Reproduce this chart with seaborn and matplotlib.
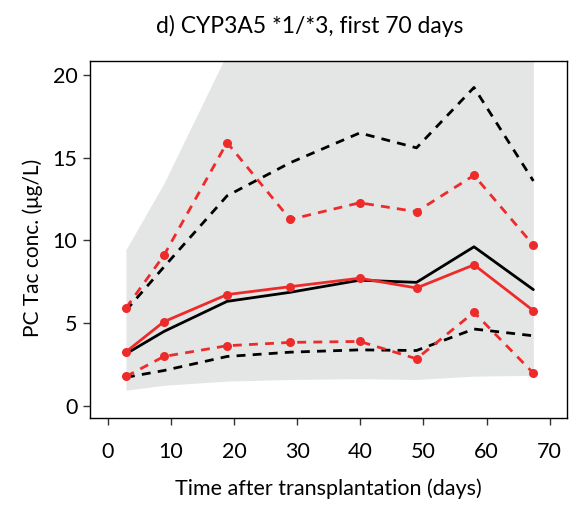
import numpy as np
import pandas as pd
import matplotlib
matplotlib.use("Agg")
import matplotlib.pyplot as plt
import seaborn as sns

# Time points (days after transplantation) of the binned observations
days = [2.9, 8.9, 18.9, 28.9, 39.9, 48.9, 58.0, 67.4]

# Observed percentiles (red)
obs_p50 = [3.27, 5.09, 6.73, 7.21, 7.72, 7.13, 8.53, 5.76]
obs_p95 = [5.92, 9.10, 15.92, 11.27, 12.28, 11.74, 13.94, 9.72]
obs_p05 = [1.78, 2.99, 3.64, 3.84, 3.90, 2.85, 5.66, 1.98]

# Simulated percentiles (black)
sim_p50 = [3.15, 4.50, 6.32, 6.87, 7.60, 7.47, 9.62, 7.03]
sim_p95 = [5.77, 8.40, 12.70, 14.70, 16.50, 15.60, 19.25, 13.60]
sim_p05 = [1.73, 2.14, 2.99, 3.25, 3.39, 3.35, 4.65, 4.24]

# Simulation-based prediction band (grey)
band_lo = [0.95, 1.25, 1.50, 1.60, 1.65, 1.60, 1.80, 1.85]
band_hi = [9.45, 13.45, 21.3, 26.0, 28.0, 27.0, 31.0, 26.0]

x_ticks = [0, 10, 20, 30, 40, 50, 60, 70]
y_ticks = [0, 5, 10, 15, 20]

sns.set_theme(style="ticks")
plt.rcParams["font.family"] = ["Lato", "DejaVu Sans"]
plt.rcParams["text.color"] = "black"
plt.rcParams["axes.labelcolor"] = "black"
plt.rcParams["xtick.color"] = "#333333"
plt.rcParams["ytick.color"] = "#333333"
plt.rcParams["xtick.labelcolor"] = "black"
plt.rcParams["ytick.labelcolor"] = "black"

fig = plt.figure(figsize=(5.72, 5.07), dpi=100)
ax = fig.add_axes([0.157, 0.1755, 0.834, 0.7042])

ax.fill_between(days, band_lo, band_hi, color="#e4e5e5", lw=0, zorder=1)

df = pd.DataFrame({
    "day": days * 6,
    "conc": sim_p50 + sim_p95 + sim_p05 + obs_p50 + obs_p95 + obs_p05,
    "series": (["sim_p50"] * 8 + ["sim_p95"] * 8 + ["sim_p05"] * 8
               + ["obs_p50"] * 8 + ["obs_p95"] * 8 + ["obs_p05"] * 8),
})

dash = (3.2, 2.6)
styles = {
    "sim_p50": dict(color="black", ls="-", marker=None),
    "sim_p95": dict(color="black", ls=(0, dash), marker=None),
    "sim_p05": dict(color="black", ls=(0, dash), marker=None),
    "obs_p50": dict(color="#ee2b2b", ls="-", marker="o"),
    "obs_p95": dict(color="#ee2b2b", ls=(0, dash), marker="o"),
    "obs_p05": dict(color="#ee2b2b", ls=(0, dash), marker="o"),
}
for i, (name, st) in enumerate(styles.items()):
    sub = df[df["series"] == name]
    sns.lineplot(data=sub, x="day", y="conc", ax=ax, color=st["color"],
                 linestyle=st["ls"], marker=st["marker"], markersize=6.5,
                 markeredgewidth=0, linewidth=2.0, zorder=3 + i,
                 estimator=None, sort=True)

ax.set_xlim(-2.83, 72.7)
ax.set_ylim(-0.73, 20.85)
ax.set_xticks(x_ticks)
ax.set_yticks(y_ticks)
ax.tick_params(axis="both", direction="out", length=5, width=1,
               labelsize=15.5, pad=4)
ax.tick_params(axis="x", pad=12)
for s in ax.spines.values():
    s.set_visible(True)
    s.set_color("black")
    s.set_linewidth(1.0)

ax.set_xlabel("Time after transplantation (days)", fontsize=15.5, labelpad=12)
ax.set_ylabel("PC Tac conc. (μg/L)", fontsize=15)
ax.yaxis.set_label_coords(-0.098, 0.476)
ax.set_title("d) CYP3A5 *1/*3, first 70 days", fontsize=16.5, pad=20, x=0.46)

fig.savefig("out.png", dpi=100)
